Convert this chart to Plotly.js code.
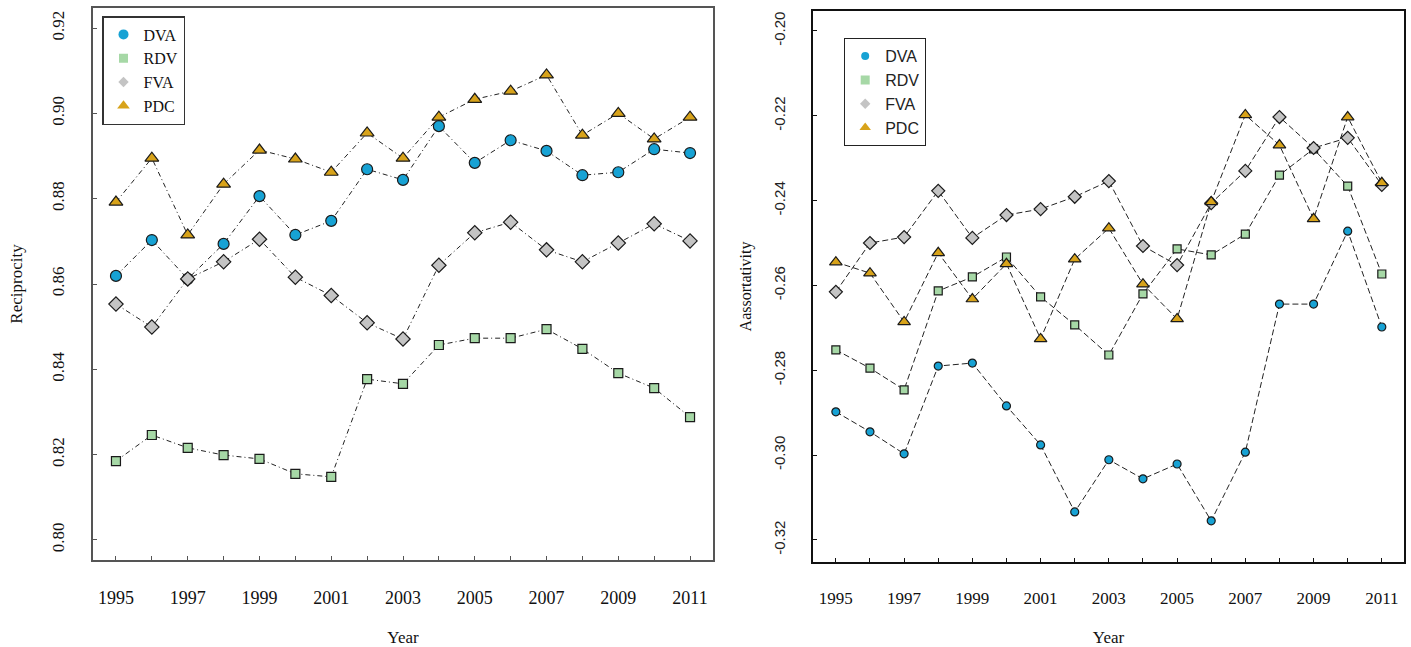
<!DOCTYPE html>
<html>
<head>
<meta charset="utf-8">
<script src="https://cdn.plot.ly/plotly-3.0.1.min.js"></script>
<style>
  html, body { margin: 0; padding: 0; background: #ffffff; }
  #chart { width: 1411px; height: 647px; }
</style>
</head>
<body>
<div id="chart"></div>
<script>
// Years covered by both panels
const years = [1995, 1996, 1997, 1998, 1999, 2000, 2001, 2002, 2003, 2004, 2005, 2006, 2007, 2008, 2009, 2010, 2011];

// Reciprocity by network
const recipDVA = [0.8619, 0.8703, 0.8612, 0.8694, 0.8806, 0.8715, 0.8748, 0.8869, 0.8844, 0.8970, 0.8884, 0.8937, 0.8912, 0.8855, 0.8862, 0.8916, 0.8907];
const recipRDV = [0.8185, 0.8246, 0.8216, 0.8199, 0.8190, 0.8155, 0.8148, 0.8377, 0.8366, 0.8457, 0.8473, 0.8473, 0.8494, 0.8448, 0.8391, 0.8356, 0.8288];
const recipFVA = [0.8553, 0.8499, 0.8612, 0.8652, 0.8705, 0.8616, 0.8573, 0.8509, 0.8471, 0.8644, 0.8720, 0.8745, 0.8680, 0.8652, 0.8696, 0.8741, 0.8701];
const recipPDC = [0.8792, 0.8895, 0.8715, 0.8834, 0.8914, 0.8893, 0.8862, 0.8954, 0.8895, 0.8991, 0.9033, 0.9052, 0.9090, 0.8949, 0.9000, 0.8940, 0.8991];

// Assortativity by network
const assortDVA = [-0.2898, -0.2945, -0.2997, -0.2790, -0.2783, -0.2884, -0.2976, -0.3134, -0.3011, -0.3056, -0.3021, -0.3155, -0.2993, -0.2644, -0.2644, -0.2472, -0.2698];
const assortRDV = [-0.2752, -0.2795, -0.2846, -0.2613, -0.2580, -0.2533, -0.2627, -0.2693, -0.2764, -0.2620, -0.2514, -0.2528, -0.2479, -0.2340, -0.2278, -0.2366, -0.2573];
const assortFVA = [-0.2615, -0.2500, -0.2486, -0.2377, -0.2488, -0.2434, -0.2420, -0.2391, -0.2354, -0.2507, -0.2552, -0.2406, -0.2330, -0.2203, -0.2276, -0.2252, -0.2363];
const assortPDC = [-0.2545, -0.2571, -0.2686, -0.2523, -0.2632, -0.2549, -0.2726, -0.2538, -0.2465, -0.2597, -0.2679, -0.2403, -0.2198, -0.2269, -0.2443, -0.2203, -0.2358];

// Tick labels
const recipTicks = [0.80, 0.82, 0.84, 0.86, 0.88, 0.90, 0.92];
const recipTickText = ["0.80", "0.82", "0.84", "0.86", "0.88", "0.90", "0.92"];
const assortTicks = [-0.32, -0.30, -0.28, -0.26, -0.24, -0.22, -0.20];
const assortTickText = ["-0.32", "-0.30", "-0.28", "-0.26", "-0.24", "-0.22", "-0.20"];

const names = ["DVA", "RDV", "FVA", "PDC"];
const colors = { DVA: "#17a2d4", RDV: "#a6d8a6", FVA: "#c4c4c4", PDC: "#d8a31a" };
const symbols = { DVA: "circle", RDV: "square", FVA: "diamond", PDC: "triangle-up" };

const SERIF = "Liberation Serif, Times New Roman, serif";
const SANS = "Liberation Sans, Arial, sans-serif";

const leftSize = { DVA: 11, RDV: 9, FVA: 11, PDC: 12 };
const rightSize = { DVA: 8, RDV: 8, FVA: 10, PDC: 11 };

function series(name, ys, xa, ya, size, dash) {
  return {
    type: "scatter", mode: "lines+markers",
    x: years, y: ys, xaxis: xa, yaxis: ya,
    name: name, showlegend: false, hoverinfo: "x+y+name",
    line: { color: "#222222", width: 1, dash: dash },
    marker: { symbol: symbols[name], size: size[name], color: colors[name],
              line: { color: "#1a1a1a", width: 1.2 } }
  };
}

function legendKey(name, xa, ya, legend, size) {
  return {
    type: "scatter", mode: "markers", x: [null], y: [null],
    xaxis: xa, yaxis: ya, name: name, legend: legend, showlegend: true,
    marker: { symbol: symbols[name], size: size, color: colors[name], line: { width: 0 } }
  };
}

const leftDash = "5px,3px,1px,3px";
const rightDash = "6px,3px";

const recipData = { DVA: recipDVA, RDV: recipRDV, FVA: recipFVA, PDC: recipPDC };
const assortData = { DVA: assortDVA, RDV: assortRDV, FVA: assortFVA, PDC: assortPDC };

const traces = [];
// left panel drawing order
["PDC", "DVA", "RDV", "FVA"].forEach(n => traces.push(series(n, recipData[n], "x", "y", leftSize, leftDash)));
// right panel drawing order
["RDV", "FVA", "PDC", "DVA"].forEach(n => traces.push(series(n, assortData[n], "x2", "y2", rightSize, rightDash)));
// legend entries
const lkLeft = { DVA: 10, RDV: 9, FVA: 8, PDC: 11 };
const lkRight = { DVA: 8, RDV: 9, FVA: 8, PDC: 10 };
names.forEach(n => traces.push(legendKey(n, "x", "y", "legend", lkLeft[n])));
names.forEach(n => traces.push(legendKey(n, "x2", "y2", "legend2", lkRight[n])));

const W = 1411, H = 647;
function px(x) { return x / W; }
function py(y) { return 1 - y / H; }

const xBase = {
  tick0: 1995, dtick: 2, ticks: "inside", ticklen: 4, tickwidth: 1,
  minor: { dtick: 1, ticks: "inside", ticklen: 4, tickwidth: 1 },
  showgrid: false, zeroline: false, showline: true, mirror: true,
  ticklabelstandoff: 20, fixedrange: true
};

const layout = {
  width: W, height: H,
  margin: { l: 0, r: 0, t: 0, b: 0 },
  paper_bgcolor: "#ffffff", plot_bgcolor: "#ffffff",
  showlegend: true,
  xaxis: Object.assign({}, xBase, {
    domain: [px(93), px(713)], range: [1994.36, 2011.64], anchor: "y",
    linecolor: "#555555", linewidth: 2, tickcolor: "#555555",
    minor: { dtick: 1, ticks: "inside", ticklen: 4, tickwidth: 1, tickcolor: "#555555" },
    tickfont: { family: SERIF, size: 18, color: "#111111" },
    title: { text: "Year", font: { family: SERIF, size: 17, color: "#111111" }, standoff: 30 }
  }),
  yaxis: {
    domain: [py(560), py(8)], range: [0.7953, 0.9247], anchor: "x",
    tickvals: recipTicks, ticktext: recipTickText, tickangle: -90,
    ticks: "inside", ticklen: 4, tickcolor: "#555555",
    showgrid: false, zeroline: false, showline: true, mirror: true,
    linecolor: "#555555", linewidth: 2, ticklabelstandoff: 20,
    tickfont: { family: SERIF, size: 17, color: "#111111" },
    title: { text: "Reciprocity", font: { family: SERIF, size: 17, color: "#111111" }, standoff: 22 },
    fixedrange: true
  },
  xaxis2: Object.assign({}, xBase, {
    domain: [px(813), px(1404)], range: [1994.33, 2011.65], anchor: "y2",
    linecolor: "#111111", linewidth: 1.5, tickcolor: "#111111",
    tickfont: { family: SERIF, size: 17, color: "#111111" },
    title: { text: "Year", font: { family: SERIF, size: 17, color: "#111111" }, standoff: 30 }
  }),
  yaxis2: {
    domain: [py(562), py(11)], range: [-0.3252, -0.1953], anchor: "x2",
    tickvals: assortTicks, ticktext: assortTickText, tickangle: -90,
    ticks: "inside", ticklen: 4, tickcolor: "#111111",
    showgrid: false, zeroline: false, showline: true, mirror: true,
    linecolor: "#111111", linewidth: 1.5, ticklabelstandoff: 20,
    tickfont: { family: SANS, size: 15, color: "#222222" },
    title: { text: "Aassortativity", font: { family: SERIF, size: 16, color: "#111111" }, standoff: 16 },
    fixedrange: true
  },
  legend: {
    x: px(102), y: py(16), xanchor: "left", yanchor: "top",
    bgcolor: "#ffffff", bordercolor: "#333333", borderwidth: 1.5,
    font: { family: SERIF, size: 16, color: "#111111" },
    itemclick: false, itemdoubleclick: false
  },
  legend2: {
    x: px(844), y: py(38), xanchor: "left", yanchor: "top",
    bgcolor: "#ffffff", bordercolor: "#222222", borderwidth: 1.2,
    font: { family: SANS, size: 16, color: "#222222" },
    itemclick: false, itemdoubleclick: false
  }
};

Plotly.newPlot("chart", traces, layout, { displayModeBar: false, staticPlot: false });
</script>
</body>
</html>
